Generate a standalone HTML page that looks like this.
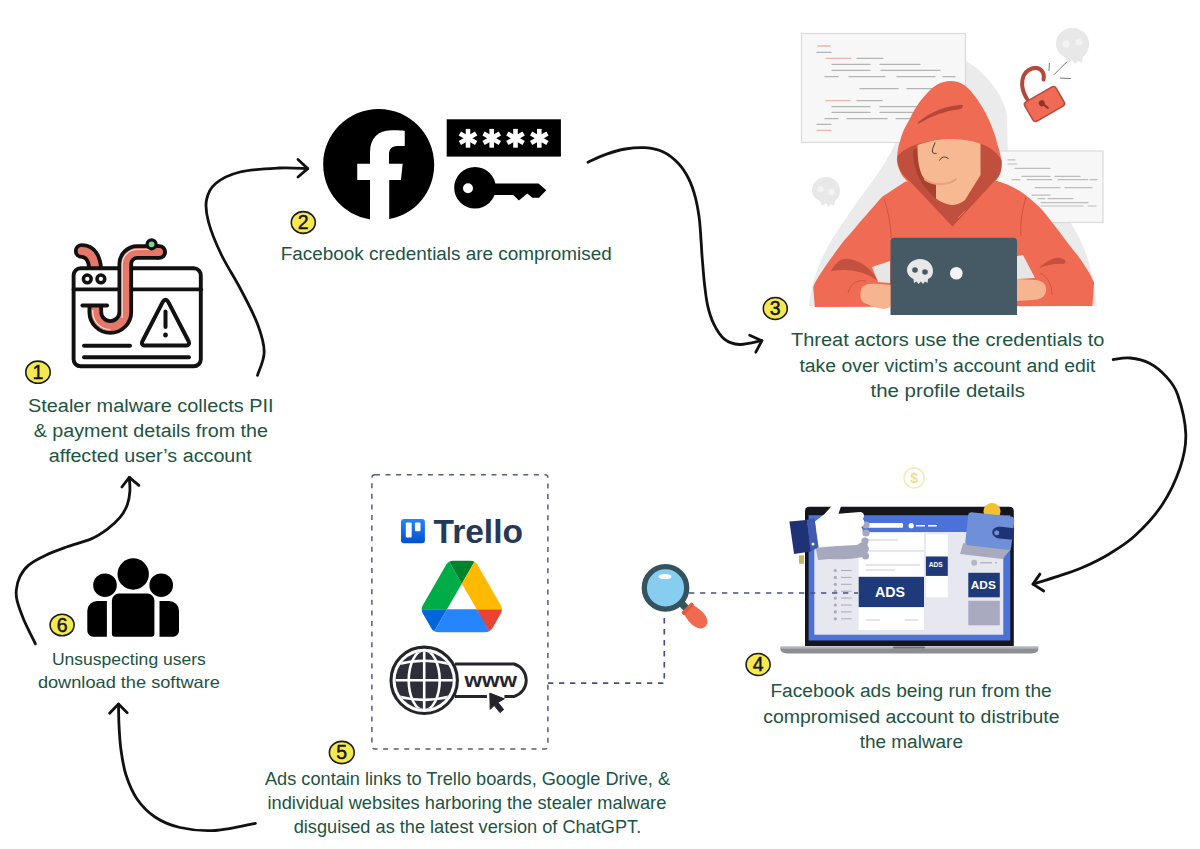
<!DOCTYPE html>
<html><head><meta charset="utf-8"><title>Facebook stealer malware flow</title>
<style>
html,body{margin:0;padding:0;background:#fff;width:1200px;height:849px;overflow:hidden}
svg{display:block}
.t{font-family:"Liberation Sans",sans-serif;fill:#1d5342}
.n{font-family:"Liberation Sans",sans-serif;fill:#151515;stroke:#151515;stroke-width:0.45;font-size:19.5px;text-anchor:middle}
.arr{fill:none;stroke:#111;stroke-width:2.8;stroke-linecap:round;stroke-linejoin:round}
.dash{fill:none;stroke:#494f86;stroke-width:1.7;stroke-dasharray:5.3 5.7}
.dbox{fill:none;stroke:#585c7c;stroke-width:1.5;stroke-dasharray:5 5.6}
</style></head><body>
<svg width="1200" height="849" viewBox="0 0 1200 849">
<rect width="1200" height="849" fill="#fff"/>
<!-- hacker illustration -->
<g>
<!-- gray background blob -->
<path d="M950,55 L966,61 C985,72 1004,95 1007,115 L1008,160 L1070,222 C1082,240 1092,262 1097,306 L809,306 C811,290 815,272 822.6,257.2 C830,240 845,220 858.6,200 C870,185 885,165 894.6,144.8 C905,125 930,75 950,55 Z" fill="#ebebeb"/>
<!-- left paper -->
<rect x="801.5" y="33.5" width="164" height="109" fill="#f7f7f7" stroke="#dadada" stroke-width="1.2"/>
<g stroke="#b4b4b4" stroke-width="1.3" stroke-linecap="round">
<path d="M817,52.4 H831 M857,58.3 H883 M832,64.4 H870 M880,64.4 H920 M832,70.3 H870 M881,70.3 H940 M825,76.7 H838 M849,76.7 H885 M897,76.7 H935 M943,76.7 H955 M860,88.7 H898 M907,88.7 H940 M857,100.7 H882 M832,106.7 H870 M880,106.7 H918 M832,112.4 H870 M880,112.4 H915 M825,118.7 H838 M847,118.7 H887 M896,118.7 H912 M817,124.3 H831"/>
</g>
<g stroke="#efb4ac" stroke-width="1.3" stroke-linecap="round">
<path d="M818,46 H830 M826,58.3 H851 M826,100.7 H850 M817,130.3 H831"/>
</g>
<!-- right paper -->
<rect x="997.5" y="151" width="105.5" height="71.5" fill="#f7f7f7" stroke="#dadada" stroke-width="1.2"/>
<g stroke="#bdbdbd" stroke-width="1.2" stroke-linecap="round">
<path d="M1008,159.8 H1015 M1008,164 H1017 M1015,168.4 H1050 M1022,176.4 H1050 M1055,176.4 H1080 M1012,179.6 H1020 M1027,179.6 H1052 M1058,179.6 H1088 M1090,179.6 H1097 M1035,187.7 H1060 M1065,187.7 H1092 M1032,195.2 H1050 M1038,198.6 H1045 M1048,198.6 H1073 M1041,202.6 H1088 M1041,206 H1083 M1088,206 H1096"/>
</g>
<!-- gray skulls -->
<g fill="#e8e8e8">
<path d="M1072,28 C1083,28 1090,36 1089,46 C1088,52 1085,55 1083,57 L1082,63 L1078,61 L1075,64 L1072,60 L1068,63 L1066,58 C1060,55 1056,50 1056,44 C1056,35 1063,28 1072,28 Z"/>
<path d="M826,177 C834,177 840,183 840,191 C840,196 837,199 835,201 L834,206 L831,204 L828,207 L826,203 L822,206 L820,201 C815,199 812,195 812,190 C812,183 818,177 826,177 Z"/>
</g>
<g fill="#f3f3f3">
<circle cx="1066" cy="44" r="3.6"/><circle cx="1079" cy="42" r="3.6"/>
<circle cx="820.5" cy="189" r="3"/><circle cx="831.5" cy="192" r="3"/>
</g>
<!-- lock -->
<path d="M1027,99 C1019,86 1021,72 1032,68.5 C1040,66 1045,72 1043.5,79.5" fill="none" stroke="#b4493a" stroke-width="4" stroke-linecap="round"/>
<g transform="translate(1044.5,104) rotate(-30)">
<rect x="-18" y="-11" width="36" height="22" rx="3" fill="#ef6b55" stroke="#b4493a" stroke-width="1.5"/>
<circle cx="-2" cy="-2" r="3" fill="#8f3428"/>
<path d="M-2,-2 L1,5" stroke="#8f3428" stroke-width="2" stroke-linecap="round"/>
</g>
<g stroke="#777" stroke-width="1" stroke-linecap="round">
<path d="M1049.4,63.5 L1049,70.5 M1054.3,74.4 L1066.7,62 M1060.5,78.1 L1070.4,78.5"/>
</g>
<!-- body -->
<path d="M905.5,181.6 C897,187 890,192 882.4,196.4 C873,207 866,215 859.3,222.8 C853,231 846,238 841.2,244.2 C834,254 829,261 824.7,267.3 C819,276 815,282 813.2,287.1 L814.8,306.9 L1092.4,306 L1094.1,282.7 C1091,276 1089,272 1085.6,267.3 C1079,256 1073,250 1066.8,241.7 C1059,231 1052,222 1044.6,212.7 C1038,205 1031,199 1024.1,193.9 C1016,188 1005,183 996.8,181.1 Z" fill="#f06b54"/>
<!-- arm gaps -->
<path d="M872,267 L890,261 L890,283 L878,282 Z" fill="#e6e6e6"/>
<path d="M1017,256 L1023,255 L1035,278 L1017,279 Z" fill="#e6e6e6"/>
<!-- seams -->
<g fill="none" stroke="#c9503f" stroke-width="0.9">
<path d="M884,199 C888,210 891,225 891,238"/>
<path d="M1026,197 C1022,210 1020,225 1021,236"/>
</g>
<!-- elbow folds -->
<path d="M831,271 C836,262 842,258 848,259 C858,260 870,266 878,281 C866,272 850,268 831,271 Z" fill="#c4503f"/>
<path d="M1039,268 C1046,262 1053,257 1060,258 C1066,259 1067,262 1064,264 C1055,263 1047,265 1039,268 Z" fill="#c4503f"/>
<g fill="none" stroke="#c4503f" stroke-width="0.8">
<path d="M848,293 C850,285 856,279 866,281"/>
<path d="M1052,295 C1052,285 1048,277 1040,273"/>
</g>
<!-- hood outer -->
<path d="M950.8,81 C961,81 968,87 972,92.5 C979,101 985,111 989,120 C992,127 994,132 995.5,137.2 C998,147 1001,155 1001.7,162.6 C1002,168 1001,171 1000.2,173.9 C998,178 996,180 994.6,182.4 L908.4,182.4 C904,178 901,175 899.9,171.1 C897,165 896.5,160 897.1,157 C897.5,150 898.5,145 899.9,141.4 C902,133 905,127 908.4,121.6 C913,112 919,101 926,94.5 C933,86 941,81 950.8,81 Z" fill="#f06b54"/>
<!-- dark opening + V -->
<path d="M897.5,156 C906,146 926,139.5 950.8,139 C975,139.5 994,146 1001.5,160 C1002,170 1000,176 995,180.5 L952.5,226.5 L909,180.5 C902,175 897.5,168 897.5,158 Z" fill="#c14f3d"/>
<!-- shadow strip -->
<path d="M913,150 L918,148 C917.5,165 921,178 936,184 L936,199 L929,192 C919,182 913,168 913,150 Z" fill="#a8412f"/>
<!-- face -->
<path d="M917.5,145 C930,140.5 940,139 950.8,139 C962,139 972,140.5 980.5,143.7 L980.5,175 L965,200 C960,204 955,205.5 951,205 C945,204 940,201.5 936,198.5 L936,184 C930,183 926,181 923,177 C919,170 917.5,160 917.5,147 Z" fill="#f7b992"/>
<path d="M925,179.5 C932,185 948,186.5 956,179" fill="none" stroke="#e6a27c" stroke-width="2.2" stroke-linecap="round"/>
<path d="M958,218 L965,211" stroke="#e88a76" stroke-width="0.8"/>
<!-- hood fold line -->
<path d="M918.3,123 C930,113 945,106.5 962.1,105.4 C962.5,107.5 961,108.5 958,108.8 C945,110 932,115 918.3,123 Z" fill="#b4473a" stroke="#b4473a" stroke-width="1.4" stroke-linejoin="round"/>
<!-- face features -->
<path d="M935.2,142.6 C933.5,146 932.2,149 932.4,152 C933,153.5 935,153.6 936.6,153.4" fill="none" stroke="#3a2a2a" stroke-width="0.9"/>
<path d="M939.5,160.5 C941,157.5 943,157 944.5,157 C946,157 948,158 948.7,159.1" fill="none" stroke="#3a2a2a" stroke-width="0.9"/>
<!-- laptop -->
<path d="M890.5,315 V241.5 A3.8,3.8 0 0 1 894.3,237.7 H1013.2 A3.8,3.8 0 0 1 1017,241.5 V315 Z" fill="#455a64"/>
<!-- hands -->
<path d="M861,290 C862,284 870,283 880,284 L890.5,285 L890.5,307 L885,309 C877,309 870,305 864,303 C860,300 860,295 861,290 Z" fill="#f6b490"/>
<path d="M1017,279 L1036,280 C1044,281 1047,286 1046,291 C1045,297 1040,300 1032,300 L1017,301 Z" fill="#f6b490"/>
<!-- laptop skull -->
<g fill="#e8e8e8">
<path d="M920,259 C927.5,259 933,264 933,271 C933,275 931,278 928,279 L927.5,283 L925,281.5 L923,284 L921,281.5 L918.5,284 L916.5,281.5 L914,283 L913.5,279 C909.5,277 907,274 907,270 C907,264 913,259 920,259 Z"/>
</g>
<g fill="#455a64"><circle cx="915" cy="270" r="2.8"/><circle cx="925" cy="272" r="2.8"/></g>
<circle cx="956.3" cy="273.3" r="6.3" fill="#f4f4f4"/>
</g>
<!-- faint decorations -->
<circle cx="914.1" cy="477.9" r="10" fill="none" stroke="#f5ebbd" stroke-width="1.6"/>
<text x="914.1" y="483" font-family="Liberation Sans, sans-serif" font-size="14" font-weight="bold" fill="#f3df86" text-anchor="middle">$</text>
<!-- laptop -->
<path d="M805,646 V511 A4.5,4.5 0 0 1 809.5,506.7 H1009.3 A4.5,4.5 0 0 1 1013.8,511 V646 Z" fill="#15151c"/>
<rect x="808.6" y="515.2" width="201.7" height="125.3" fill="#4a72d8"/>
<rect x="814.3" y="532" width="189" height="102.7" fill="#e6e7ef"/>
<path d="M780.5,646.8 H1038.3 V649.5 C1038.3,652 1035,653.5 1030,653.5 H789 C784,653.5 780.5,652 780.5,649.5 Z" fill="#8d8e93"/>
<rect x="780.5" y="646.5" width="257.8" height="2.2" fill="#b3b4b8"/>
<rect x="893" y="646.5" width="32" height="2" rx="1" fill="#6e6f74"/>
<!-- header items -->
<rect x="868" y="523" width="35" height="4.8" rx="1" fill="#fff"/>
<circle cx="911.2" cy="525.7" r="2.6" fill="#fff"/>
<path d="M916,525.7 H925 M928,525.7 H937" stroke="#fff" stroke-width="1.6"/>
<!-- sidebar -->
<g fill="#a9aab8">
<circle cx="835.3" cy="570.5" r="1.6"/><circle cx="835.3" cy="577.4" r="1.6"/><circle cx="835.3" cy="584.3" r="1.6"/><circle cx="835.3" cy="591.2" r="1.6"/><circle cx="835.3" cy="598.1" r="1.6"/><circle cx="835.3" cy="605" r="1.6"/><circle cx="835.3" cy="611.9" r="1.6"/><circle cx="835.3" cy="618.8" r="1.6"/>
</g>
<path d="M841,570.5 H851.7 M841,577.4 H851.7 M841,584.3 H851.7 M841,591.2 H851.7 M841,598.1 H851.7 M841,605 H851.7 M841,611.9 H851.7 M841,618.8 H851.7" stroke="#a9aab8" stroke-width="1"/>
<!-- center post -->
<rect x="858.7" y="533.2" width="65.3" height="96.8" fill="#fff"/>
<rect x="858.7" y="550" width="65.3" height="2" fill="#e6e7ef"/>
<path d="M866,540 H898 M866,565 H920 M866,570 H895 M866,620 H880 M905,620 H918" stroke="#dcdde6" stroke-width="1.6"/>
<circle cx="866" cy="556" r="3" fill="#d0d1dc"/>
<rect x="858.7" y="576.8" width="65.3" height="30.3" fill="#1f3a7a"/>
<text x="875" y="597.3" font-family="Liberation Sans, sans-serif" font-weight="bold" font-size="15" fill="#fff" textLength="30" lengthAdjust="spacingAndGlyphs">ADS</text>
<!-- middle column -->
<rect x="925.9" y="534.3" width="21.9" height="22.2" fill="#fff"/>
<rect x="925.9" y="556.5" width="21.9" height="19.4" fill="#1f3a7a"/>
<text x="928.7" y="567.2" font-family="Liberation Sans, sans-serif" font-weight="bold" font-size="6.8" fill="#fff" textLength="14" lengthAdjust="spacingAndGlyphs">ADS</text>
<rect x="925.9" y="576" width="21.9" height="21.3" fill="#fff"/>
<!-- right column -->
<circle cx="974.2" cy="562.8" r="3" fill="#b5b6c4"/>
<path d="M980,562.8 H992 M995,562.8 H997" stroke="#b5b6c4" stroke-width="1.4"/>
<rect x="968.3" y="572.8" width="31.5" height="24.5" fill="#1f3a7a"/>
<text x="970.8" y="589.4" font-family="Liberation Sans, sans-serif" font-weight="bold" font-size="11.5" fill="#fff" textLength="25" lengthAdjust="spacingAndGlyphs">ADS</text>
<rect x="968.3" y="600.8" width="31.5" height="24.5" fill="#a9aac0"/>
<!-- hand shadow -->
<path d="M815.8,548 L858,544 L866,540 L869,549 L866,556 C860,558 845,560 830,559 L818,560 Z" fill="#a6a9bd"/>
<circle cx="865.5" cy="556" r="3.5" fill="#a6a9bd"/>
<circle cx="866" cy="525" r="3.6" fill="#a6a9bd"/><circle cx="866" cy="533" r="3.6" fill="#a6a9bd"/><circle cx="865" cy="541" r="3.6" fill="#a6a9bd"/>
<!-- thumbs up hand -->
<path d="M814.9,521.4 L824,514.5 L834,503.5 C837,500.5 842,501.5 841.3,505.4 L838.5,513.8 L860,512 C864,512 865,516 862.9,519 C865,521 865,526 861,527 C864,529 863,534 859,535 C862,537 861,542 857.3,545 L817.7,546.8 Z" fill="#fff"/>
<!-- cuff -->
<path d="M806.4,520 L814.4,518 L818.6,547.3 L810.6,551.5 Z" fill="#3f5bb0"/>
<path d="M789.4,521.4 L806.4,520 L810.6,551.5 L794.1,553.9 Z" fill="#1e3275"/>
<circle cx="813" cy="544" r="1.5" fill="#fff"/>
<rect x="799" y="555.3" width="5" height="8.5" fill="#c8b56c"/>
<!-- wallet shadow -->
<path d="M963.3,543 L1011,549 L1002.5,559 L960,554 Z" fill="#a9abbd"/>
<!-- coin -->
<circle cx="992" cy="511.5" r="8.5" fill="#f2c230"/>
<!-- wallet -->
<path d="M971.5,512.3 L1011,516.5 C1013.5,516.8 1014.5,518.5 1014.2,521 L1011.2,547 C1011,549 1009,550 1007,549.8 L968.5,545.2 C966,545 965,543 965.4,541 L968.2,515 C968.5,513 970,512.2 971.5,512.3 Z" fill="#6f8fd8"/>
<path d="M1001,526.8 L1014.2,528.2 L1013.1,539.8 L999.5,538.4 C995,538 992,535 992.3,532 C992.6,528.5 996,526.3 1001,526.8 Z" fill="#1e3275"/>
<circle cx="996.7" cy="532.8" r="2.5" fill="#6f8fd8"/>
<!-- worm browser icon -->
<g fill="none" stroke-linejoin="round">
<clipPath id="tailclip"><rect x="60" y="230" width="60" height="38.2"/></clipPath>
<g clip-path="url(#tailclip)">
<path d="M81.7,251 C89,251 95.5,256 95.5,275" stroke="#111" stroke-width="15.6" stroke-linecap="round"/>
<path d="M81.7,251 C89,251 95.5,256 95.5,275" stroke="#e57868" stroke-width="8" stroke-linecap="round"/>
</g>
<rect x="73.6" y="309" width="40" height="40" fill="#fff" stroke="none"/>
</g>
<g fill="none" stroke="#111" stroke-linecap="round" stroke-linejoin="round">
<rect x="73.6" y="268.3" width="127.2" height="98" rx="7" fill="none" stroke-width="3.9"/>
<line x1="73.6" y1="289.4" x2="201.2" y2="289.4" stroke-width="3.9"/>
<circle cx="87.3" cy="278.9" r="3.9" stroke-width="3.5"/>
<circle cx="100.9" cy="278.9" r="3.9" stroke-width="3.5"/>
<line x1="84" y1="345.7" x2="130" y2="345.7" stroke-width="3.9"/>
<line x1="84" y1="357.3" x2="189" y2="357.3" stroke-width="3.9"/>
<path d="M146,345.5 H185 Q191,345.5 188.1,340.25 L168.6,302.6 Q165.5,297 162.4,302.6 L142.9,340.25 Q140,345.5 146,345.5 Z" stroke-width="4"/>
<line x1="165.5" y1="311.5" x2="165.5" y2="327" stroke-width="4"/>
<line x1="165.5" y1="334.8" x2="165.5" y2="335.2" stroke-width="4.6"/>
<path d="M95.3,305.5 V312 A15,15 0 0 0 125.3,312 V264 A12,12 0 0 1 137.3,252 H159" stroke-width="15.6" stroke-linecap="butt"/>
<path d="M159,252 H159.2" stroke-width="15.6"/>
</g>
<g fill="none" stroke="#e57868" stroke-linecap="round" stroke-linejoin="round" stroke-width="8">
<path d="M95.3,309 V312 A15,15 0 0 0 125.3,312 V264 A12,12 0 0 1 137.3,252 H159"/>
</g>
<g fill="none" stroke="#fbe3dc" stroke-width="1.2">
<path d="M92.8,310 V312 A17.5,17.5 0 0 0 110.3,329.5"/>
<path d="M122.2,318 V264 A15,15 0 0 1 137.3,249.5 H150"/>
</g>
<line x1="82.4" y1="305.5" x2="107.1" y2="305.5" stroke="#111" stroke-width="3.9" stroke-linecap="round"/>
<circle cx="151.6" cy="244.3" r="4.5" fill="#7ed58f" stroke="#111" stroke-width="3.2"/>

<!-- facebook logo -->
<path transform="translate(323.2,109.1) scale(0.1084)" fill="#000" d="M1024,512C1024,229.23,794.77,0,512,0S0,229.23,0,512c0,255.55,187.23,467.37,432,505.78V655H314V505H432V399.2C432,270.88,508.44,196,625.39,196c56,0,127,6,127,6V340H683c-55,0-76,35-76,80v85H733L717,655H609V1014.5C846,976,1024,767.55,1024,512Z"/>
<!-- password box -->
<rect x="446.7" y="119.3" width="114.2" height="37.3" fill="#000"/>
<g fill="#fff">
<g transform="translate(468,138.3)"><rect x="-2.3" y="-9.4" width="4.6" height="18.8"/><rect x="-2.3" y="-9.4" width="4.6" height="18.8" transform="rotate(60)"/><rect x="-2.3" y="-9.4" width="4.6" height="18.8" transform="rotate(120)"/></g>
<g transform="translate(491.7,138.3)"><rect x="-2.3" y="-9.4" width="4.6" height="18.8"/><rect x="-2.3" y="-9.4" width="4.6" height="18.8" transform="rotate(60)"/><rect x="-2.3" y="-9.4" width="4.6" height="18.8" transform="rotate(120)"/></g>
<g transform="translate(515.5,138.3)"><rect x="-2.3" y="-9.4" width="4.6" height="18.8"/><rect x="-2.3" y="-9.4" width="4.6" height="18.8" transform="rotate(60)"/><rect x="-2.3" y="-9.4" width="4.6" height="18.8" transform="rotate(120)"/></g>
<g transform="translate(539.3,138.3)"><rect x="-2.3" y="-9.4" width="4.6" height="18.8"/><rect x="-2.3" y="-9.4" width="4.6" height="18.8" transform="rotate(60)"/><rect x="-2.3" y="-9.4" width="4.6" height="18.8" transform="rotate(120)"/></g>
</g>
<!-- key -->
<path fill="#000" fill-rule="evenodd" d="M475,167 A20.8,20.8 0 1 0 475,208.6 A20.8,20.8 0 1 0 475,167 Z M468,183.3 A5,5 0 1 1 468,193.3 A5,5 0 1 1 468,183.3 Z"/>
<path fill="#000" d="M490,183.5 H538.5 L546.3,190.2 L539,197.8 H532.3 L527.3,193.4 L518.9,200.6 L513.3,195 H490 Z"/>

<!-- people icon -->
<g fill="#000">
<circle cx="133.2" cy="574" r="15.7"/>
<circle cx="105" cy="585.2" r="11.8"/>
<circle cx="161.2" cy="585.2" r="11.8"/>
<path d="M111.9,633.7 V600.6 A7,7 0 0 1 118.9,593.6 H147.4 A7,7 0 0 1 154.4,600.6 V633.7 A3,3 0 0 1 151.4,636.7 H114.9 A3,3 0 0 1 111.9,633.7 Z"/>
<path d="M106.9,636.7 H93.3 A6,6 0 0 1 87.3,630.7 V610.9 A10,10 0 0 1 97.3,600.9 H106.9 Z"/>
<path d="M159.5,636.7 H173 A6,6 0 0 0 179,630.7 V610.9 A10,10 0 0 0 169,600.9 H159.5 Z"/>
</g>

<!-- trello -->
<defs><linearGradient id="tg" x1="0" y1="0" x2="0" y2="1"><stop offset="0" stop-color="#2684ff"/><stop offset="1" stop-color="#0052cc"/></linearGradient></defs>
<rect x="401" y="519" width="23.9" height="24.2" rx="3" fill="url(#tg)"/>
<rect x="405.8" y="522.5" width="5.9" height="15.1" rx="1" fill="#fff"/>
<rect x="414.9" y="522.5" width="5.6" height="8.7" rx="1" fill="#fff"/>
<text x="433.5" y="542.9" font-family="Liberation Sans, sans-serif" font-weight="bold" font-size="32.4" fill="#253858" textLength="89.5" lengthAdjust="spacingAndGlyphs">Trello</text>

<!-- google drive -->
<g transform="translate(421.7,560.7) scale(0.919,0.918)">
<path d="m6.6 66.85 3.85 6.65c.8 1.4 1.95 2.5 3.3 3.3l13.75-23.8h-27.5c0 1.55.4 3.1 1.2 4.5z" fill="#0066da"/>
<path d="m43.65 25-13.75-23.8c-1.35.8-2.5 1.9-3.3 3.3l-25.4 44a9.06 9.06 0 0 0 -1.2 4.5h27.5z" fill="#00ac47"/>
<path d="m73.55 76.8c1.35-.8 2.5-1.9 3.3-3.3l1.6-2.75 7.65-13.25c.8-1.4 1.2-2.95 1.2-4.5h-27.502l5.852 11.5z" fill="#ea4335"/>
<path d="m43.65 25 13.75-23.8c-1.35-.8-2.9-1.2-4.5-1.2h-18.5c-1.6 0-3.15.45-4.5 1.2z" fill="#00832d"/>
<path d="m59.8 53h-32.3l-13.75 23.8c1.35.8 2.9 1.2 4.5 1.2h50.8c1.6 0 3.15-.45 4.5-1.2z" fill="#2684fc"/>
<path d="m73.4 26.5-12.7-22c-.8-1.4-1.95-2.5-3.3-3.3l-13.75 23.8 16.15 28h27.45c0-1.55-.4-3.1-1.2-4.5z" fill="#ffba00"/>
</g>

<!-- www globe -->
<g stroke="#24242c" fill="none">
<path d="M455,664 H514 A16.9,16.9 0 0 1 514,696.5 H504.4 M486.9,696.5 H455" stroke-width="2.9"/>
<circle cx="424.2" cy="680.3" r="33.2" stroke-width="3.1" fill="#fff"/>
</g>
<clipPath id="gc"><circle cx="424.2" cy="680.3" r="28.6"/></clipPath>
<g clip-path="url(#gc)">
<rect x="394" y="650" width="62" height="62" fill="#2e2e3a"/>
<g stroke="#fff" stroke-width="2.6" fill="none">
<line x1="424.2" y1="650" x2="424.2" y2="712"/>
<line x1="394" y1="680.3" x2="456" y2="680.3"/>
<ellipse cx="424.2" cy="680.3" rx="15.5" ry="30"/>
<path d="M396,664.5 Q424.2,657 452.4,664.5"/>
<path d="M396,696.1 Q424.2,703.6 452.4,696.1"/>
</g>
</g>
<text x="464.6" y="686.5" font-family="Liberation Sans, sans-serif" font-weight="bold" font-size="20" fill="#24242c" textLength="52.5" lengthAdjust="spacingAndGlyphs">www</text>
<path d="M489.8,693.1 L490.2,709.4 L494.2,705.4 L500,712.6 L503.6,709.6 L498,702.4 L504.4,698.8 Z" fill="#24242c" stroke="#24242c" stroke-width="1" stroke-linejoin="round"/>

<!-- magnifier -->
<path d="M681,603 L689,611" stroke="#34535f" stroke-width="7" stroke-linecap="round"/>
<g transform="translate(695.5,616.5) rotate(45)">
<path d="M-12,-6.5 L-8,-7 C0,-9 10,-9 13,-3.5 C14.5,-1 14.5,1 13,3.5 C10,9 0,9 -8,7 L-12,6.5 Z" fill="#ef6a4e"/>
<rect x="-13" y="-7.5" width="4" height="15" rx="1.5" fill="#e55a40"/>
</g>
<circle cx="665.5" cy="587.9" r="21.2" fill="#87cdef" stroke="#34535f" stroke-width="5.3"/>
<ellipse cx="665" cy="576.7" rx="6.5" ry="2.6" fill="#fff"/>
<!-- curved arrows -->
<g class="arr">
<path d="M257.5,375.3 C258.6,371.4 264.2,360.6 264.2,352.0 C264.2,343.4 261.5,334.7 257.5,324.0 C253.5,313.3 246.0,299.5 240.0,288.0 C234.0,276.5 226.8,266.0 221.5,255.0 C216.2,244.0 211.0,231.2 208.5,222.0 C206.0,212.8 205.3,206.4 206.5,200.0 C207.7,193.6 210.1,188.2 215.7,183.5 C221.3,178.8 229.4,174.6 240.0,172.0 C250.6,169.4 267.9,168.6 279.2,168.0 C290.5,167.4 302.9,168.5 307.7,168.6"/>
<path d="M298,159.5 L307.7,168.6 L298,177"/>
<path d="M588.0,162.2 C591.0,160.9 599.7,156.6 605.9,154.4 C612.1,152.2 618.8,150.1 625.3,149.0 C631.8,147.9 638.5,147.2 644.8,147.7 C651.1,148.2 657.3,149.2 662.9,151.8 C668.5,154.4 674.1,159.0 678.4,163.5 C682.7,168.0 686.0,173.4 688.8,179.0 C691.6,184.6 693.6,190.7 695.3,197.2 C697.0,203.7 698.2,210.6 699.2,217.9 C700.2,225.2 700.6,234.5 701.1,241.2 C701.6,247.9 701.6,250.9 702.2,258.0 C702.8,265.1 703.6,276.1 704.5,284.0 C705.4,291.9 706.1,298.8 707.6,305.4 C709.1,312.0 710.9,318.2 713.7,323.8 C716.5,329.4 720.1,335.7 724.4,339.1 C728.7,342.6 733.5,344.2 739.7,344.5 C746.0,344.8 758.2,341.3 761.9,340.7"/>
<path d="M749.7,335.3 L761.9,340.7 L755.8,352.2"/>
<path d="M1113.2,359.5 C1116.0,359.2 1124.0,357.4 1130.0,358.0 C1136.0,358.6 1143.5,360.1 1149.5,363.2 C1155.5,366.3 1161.3,371.2 1166.0,376.4 C1170.7,381.6 1174.3,384.9 1177.6,394.5 C1180.9,404.1 1185.4,421.9 1185.8,434.1 C1186.2,446.4 1184.0,456.2 1180.0,468.0 C1176.0,479.8 1169.5,493.7 1162.0,505.0 C1154.5,516.3 1143.8,527.6 1134.9,535.8 C1126.0,544.0 1117.7,548.8 1108.8,554.2 C1099.9,559.6 1090.2,564.2 1081.3,568.0 C1072.4,571.8 1063.2,574.5 1055.2,577.2 C1047.2,579.9 1036.7,583.0 1033.0,584.1"/>
<path d="M1039.9,574.1 L1033,584.1 L1043.7,591"/>
<path d="M255.4,823.3 C248.7,824.5 227.6,829.8 215.0,830.5 C202.4,831.2 190.0,829.8 180.0,827.5 C170.0,825.2 162.2,821.8 155.0,817.0 C147.8,812.2 141.8,806.0 137.0,799.0 C132.2,792.0 128.7,783.2 126.0,775.0 C123.3,766.8 122.2,758.3 121.0,750.0 C119.8,741.7 119.4,732.6 119.0,725.0 C118.6,717.4 118.6,707.6 118.5,704.1"/>
<path d="M109.6,713.2 L118.5,704.1 L127.2,712.8"/>
<path d="M35.4,643.8 C33.5,639.9 27.2,627.7 24.1,620.5 C21.1,613.3 18.4,605.9 17.1,600.7 C15.8,595.5 15.9,593.4 16.4,589.4 C16.9,585.4 17.9,580.6 19.9,576.6 C21.9,572.6 24.2,568.8 28.4,565.3 C32.6,561.8 38.9,558.4 45.3,555.4 C51.6,552.4 58.9,549.8 66.5,547.0 C74.2,544.2 84.4,541.9 91.2,538.9 C98.0,535.9 102.3,532.8 107.1,529.3 C111.9,525.8 116.4,521.8 119.8,517.7 C123.2,513.7 125.5,509.4 127.2,505.0 C128.9,500.6 129.6,495.8 129.9,491.2 C130.2,486.6 129.4,479.7 129.3,477.4"/>
<path d="M121.9,487 L129.3,477.4 L138.9,485.4"/>
</g>
<!-- dashed connectors -->
<rect class="dbox" x="371.9" y="474.8" width="176" height="274.2" rx="3"/>
<path class="dash" d="M548,683.1 H664.3 V614"/>
<path class="dash" d="M689,593 H858"/>
<!-- descriptive text -->
<g class="t" font-size="19.2">
<text x="28" y="411.7" textLength="245.5" lengthAdjust="spacingAndGlyphs">Stealer malware collects PII</text>
<text x="33.7" y="436.7" textLength="234.3" lengthAdjust="spacingAndGlyphs">&amp; payment details from the</text>
<text x="48.8" y="461.9" textLength="203" lengthAdjust="spacingAndGlyphs">affected user’s account</text>
<text x="280.8" y="260" textLength="331" lengthAdjust="spacingAndGlyphs">Facebook credentials are compromised</text>
<text x="791" y="346" textLength="313.5" lengthAdjust="spacingAndGlyphs">Threat actors use the credentials to</text>
<text x="799.4" y="371.6" textLength="296" lengthAdjust="spacingAndGlyphs">take over victim’s account and edit</text>
<text x="870.5" y="396.5" textLength="154.5" lengthAdjust="spacingAndGlyphs">the profile details</text>
<text x="770.4" y="697.4" textLength="281.4" lengthAdjust="spacingAndGlyphs">Facebook ads being run from the</text>
<text x="763.3" y="723" textLength="296.2" lengthAdjust="spacingAndGlyphs">compromised account to distribute</text>
<text x="859.7" y="747.6" textLength="103.3" lengthAdjust="spacingAndGlyphs">the malware</text>
</g>
<g class="t" font-size="18.5">
<text x="265" y="785.2" textLength="405" lengthAdjust="spacingAndGlyphs">Ads contain links to Trello boards, Google Drive, &amp;</text>
<text x="267.5" y="808.5" textLength="398.8" lengthAdjust="spacingAndGlyphs">individual websites harboring the stealer malware</text>
<text x="293.7" y="832.5" textLength="347.5" lengthAdjust="spacingAndGlyphs">disguised as the latest version of ChatGPT.</text>
</g>
<g class="t" font-size="16.5">
<text x="51.9" y="665.1" textLength="154" lengthAdjust="spacingAndGlyphs">Unsuspecting users</text>
<text x="37.9" y="688.4" textLength="182" lengthAdjust="spacingAndGlyphs">download the software</text>
</g>
<!-- badges -->
<g>
<ellipse cx="38" cy="372.2" rx="12.2" ry="11.1" fill="#f4e94f" stroke="#1b1b1b" stroke-width="1.6"/>
<text class="n" x="38" y="379.1">1</text>
<ellipse cx="303.3" cy="222.5" rx="12" ry="10.9" fill="#f4e94f" stroke="#1b1b1b" stroke-width="1.6"/>
<text class="n" x="303.3" y="229.4">2</text>
<ellipse cx="775.3" cy="308.5" rx="12" ry="11" fill="#f4e94f" stroke="#1b1b1b" stroke-width="1.6"/>
<text class="n" x="775.3" y="315.4">3</text>
<ellipse cx="758.1" cy="664.5" rx="12" ry="11" fill="#f4e94f" stroke="#1b1b1b" stroke-width="1.6"/>
<text class="n" x="758.1" y="671.4">4</text>
<ellipse cx="341.8" cy="752.5" rx="12.4" ry="11.1" fill="#f4e94f" stroke="#1b1b1b" stroke-width="1.6"/>
<text class="n" x="341.8" y="759.4">5</text>
<ellipse cx="62.1" cy="625" rx="12" ry="10.8" fill="#f4e94f" stroke="#1b1b1b" stroke-width="1.6"/>
<text class="n" x="62.1" y="631.9">6</text>
</g>
</svg>
</body></html>
